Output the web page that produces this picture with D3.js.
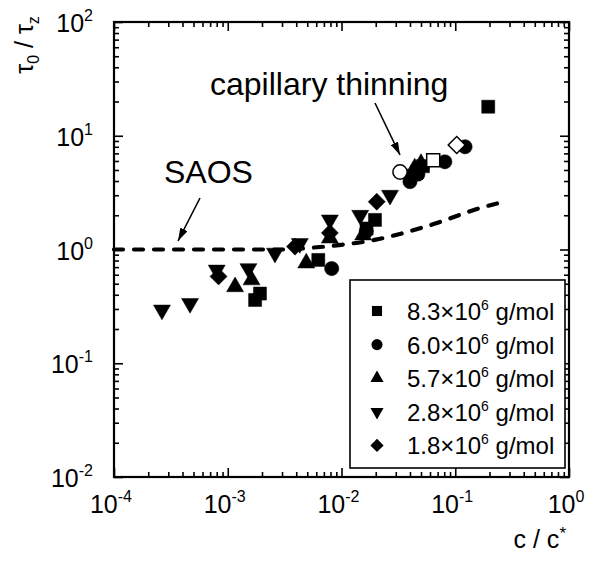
<!DOCTYPE html>
<html><head><meta charset="utf-8">
<script src="https://cdn.jsdelivr.net/npm/d3@7"></script>
<style>body{margin:0;background:#fff;}svg{display:block;font-family:"Liberation Sans",Arial,sans-serif;}</style>
</head><body>
<svg id="chart" width="590" height="568"></svg>
<script>
// ---- data ----
const xTickExps = [-4, -3, -2, -1, 0];
const yTickExps = [-2, -1, 0, 1, 2];
const legendLabels = ["8.3", "6.0", "5.7", "2.8", "1.8"];
const series83 = [[1.74e-3,0.36],[1.92e-3,0.41],[6.25e-3,0.81],[0.0166,1.53],[0.0197,1.82],[0.046,4.8],[0.052,5.4],[0.195,18]];
const series83Open = [[0.064,6.1]];
const series60 = [[8.2e-3,0.68],[0.0165,1.45],[0.04,3.95],[0.047,4.6],[0.081,5.9],[0.122,8.0]];
const series60Open = [[0.0327,4.8]];
const series57 = [[1.16e-3,0.47],[1.62e-3,0.54],[4.9e-3,0.76],[7.9e-3,1.26],[0.0155,1.34],[0.044,5.2],[0.05,5.7]];
const series28 = [[2.64e-4,0.294],[4.66e-4,0.336],[8.0e-4,0.66],[1.52e-3,0.68],[2.6e-3,0.93],[4.3e-3,1.13],[7.9e-3,1.82],[0.0146,2.0],[0.0267,3.0],[0.04,4.6]];
const series18 = [[8.3e-4,0.58],[3.9e-3,1.06],[7.9e-3,1.4],[0.0204,2.63],[0.049,5.3]];
const series18Open = [[0.103,8.3]];
const saosCurve = [[1e-4,1],[1e-3,1],[3e-3,1.0],[5e-3,1.03],[0.01,1.1],[0.02,1.22],[0.04,1.45],[0.07,1.72],[0.1,1.95],[0.15,2.25],[0.24,2.56]];

// ---- layout ----
const svg = d3.select("#chart");
const L = 114, T = 22, W = 455, H = 455;
const x = d3.scaleLog().domain([1e-4, 1]).range([L, L + W]);
const y = d3.scaleLog().domain([1e-2, 1e2]).range([T + H, T]);

const minorX = [], minorY = [];
for (let e = -4; e < 0; e++) for (let m = 2; m <= 9; m++) minorX.push(m * Math.pow(10, e));
for (let e = -2; e < 2; e++) for (let m = 2; m <= 9; m++) minorY.push(m * Math.pow(10, e));
const majorX = xTickExps.map(e => Math.pow(10, e));
const majorY = yTickExps.map(e => Math.pow(10, e));

const g = svg.append("g");
function inwardAxis(axisFn, scale, vals, len, transform) {
  const a = axisFn(scale).tickValues(vals).tickSize(len).tickFormat("");
  const ga = g.append("g").attr("transform", transform).call(a);
  ga.select(".domain").remove();
  ga.selectAll("line").attr("stroke", "#000").attr("stroke-width", 1.6);
}
inwardAxis(d3.axisTop, x, majorX, 9, `translate(0,${T + H})`);
inwardAxis(d3.axisTop, x, minorX, 5, `translate(0,${T + H})`);
inwardAxis(d3.axisBottom, x, majorX, 9, `translate(0,${T})`);
inwardAxis(d3.axisBottom, x, minorX, 5, `translate(0,${T})`);
inwardAxis(d3.axisRight, y, majorY, 9, `translate(${L},0)`);
inwardAxis(d3.axisRight, y, minorY, 5, `translate(${L},0)`);
inwardAxis(d3.axisLeft, y, majorY, 9, `translate(${L + W},0)`);
inwardAxis(d3.axisLeft, y, minorY, 5, `translate(${L + W},0)`);

g.append("rect").attr("x", L).attr("y", T).attr("width", W).attr("height", H)
  .attr("fill", "none").attr("stroke", "#000").attr("stroke-width", 2.2);

// tick labels
const xl = g.append("g").selectAll("text").data(xTickExps).join("text")
  .attr("x", d => x(Math.pow(10, d)) - 3).attr("y", 513)
  .attr("text-anchor", "middle").attr("font-size", 25);
xl.append("tspan").text("10");
xl.append("tspan").attr("dy", -11).attr("font-size", 16).text(d => d < 0 ? "-" + (-d) : d);

const yl = g.append("g").selectAll("text").data(yTickExps).join("text")
  .attr("x", 93).attr("y", d => y(Math.pow(10, d)) + 10)
  .attr("text-anchor", "end").attr("font-size", 25);
yl.append("tspan").text("10");
yl.append("tspan").attr("dy", -11).attr("font-size", 16).text(d => d < 0 ? "-" + (-d) : d);

// axis titles
const xt = g.append("text").attr("x", 566).attr("y", 548).attr("text-anchor", "end").attr("font-size", 25);
xt.append("tspan").text("c / c");
xt.append("tspan").attr("dy", -9).attr("font-size", 17).text("*");

const yt = g.append("text").attr("transform", "translate(33,45) rotate(-90)")
  .attr("text-anchor", "middle").attr("font-size", 25);
yt.append("tspan").text("τ");
yt.append("tspan").attr("dy", 6).attr("font-size", 16).text("0");
yt.append("tspan").attr("dy", -6).text(" / τ");
yt.append("tspan").attr("dy", 6).attr("font-size", 16).text("z");

// SAOS dashed curve
const line = d3.line().x(d => x(d[0])).y(d => y(d[1])).curve(d3.curveMonotoneX);
g.append("path").datum(saosCurve).attr("d", line).attr("fill", "none")
  .attr("stroke", "#000").attr("stroke-width", 4.2).attr("stroke-linecap", "round")
  .attr("stroke-dasharray", "9,11");

// annotations
g.append("text").attr("x", 164).attr("y", 183).attr("font-size", 32).text("SAOS");
g.append("text").attr("x", 210).attr("y", 95).attr("font-size", 32).text("capillary thinning");
const defs = svg.append("defs");
defs.append("marker").attr("id", "ah").attr("viewBox", "0 0 13 8").attr("refX", 13).attr("refY", 4)
  .attr("markerWidth", 13).attr("markerHeight", 8).attr("markerUnits", "userSpaceOnUse").attr("orient", "auto")
  .append("path").attr("d", "M0,0L13,4L0,8Z").attr("fill", "#000");
g.append("line").attr("x1", 200).attr("y1", 198).attr("x2", 178).attr("y2", 241)
  .attr("stroke", "#000").attr("stroke-width", 1.6).attr("marker-end", "url(#ah)");
g.append("line").attr("x1", 375).attr("y1", 103).attr("x2", 400).attr("y2", 155)
  .attr("stroke", "#000").attr("stroke-width", 1.6).attr("marker-end", "url(#ah)");

// markers
const shapes = {
  square: {type: d3.symbolSquare, size: 170, rot: 0},
  circle: {type: d3.symbolCircle, size: 160, rot: 0},
  up: {type: d3.symbolTriangle, size: 125, rot: 0},
  down: {type: d3.symbolTriangle, size: 125, rot: 180},
  diamond: {type: d3.symbolSquare, size: 145, rot: 45}
};
function drawSeries(data, shape, open, scale) {
  const s = shapes[shape];
  g.append("g").selectAll("path").data(data).join("path")
    .attr("d", d3.symbol().type(s.type).size(s.size * (scale || 1)))
    .attr("transform", d => `translate(${x(d[0])},${y(d[1])}) rotate(${s.rot})`)
    .attr("fill", open ? "#fff" : "#000").attr("stroke", "#000").attr("stroke-width", open ? 1.5 : 0.5);
}
drawSeries(series28, "down");
drawSeries(series57, "up");
drawSeries(series18, "diamond");
drawSeries(series83, "square");
drawSeries(series60, "circle");
drawSeries(series60Open, "circle", true);
drawSeries(series83Open, "square", true);
drawSeries(series18Open, "diamond", true);

// legend
const lg = g.append("g");
lg.append("rect").attr("x", 350).attr("y", 280).attr("width", 215).attr("height", 188)
  .attr("fill", "#fff").attr("stroke", "#000").attr("stroke-width", 1.6);
const legShapes = ["square", "circle", "up", "down", "diamond"];
legendLabels.forEach((lab, i) => {
  const cy = 311 + i * 33.6;
  const s = shapes[legShapes[i]];
  lg.append("path").attr("d", d3.symbol().type(s.type).size(s.size * 0.6))
    .attr("transform", `translate(377,${cy}) rotate(${s.rot})`).attr("fill", "#000");
  const t = lg.append("text").attr("x", 407).attr("y", cy + 9).attr("font-size", 24);
  t.append("tspan").text(lab + "×10");
  t.append("tspan").attr("dy", -10).attr("font-size", 14).text("6");
  t.append("tspan").attr("dy", 10).text(" g/mol");
});
</script>
</body></html>
